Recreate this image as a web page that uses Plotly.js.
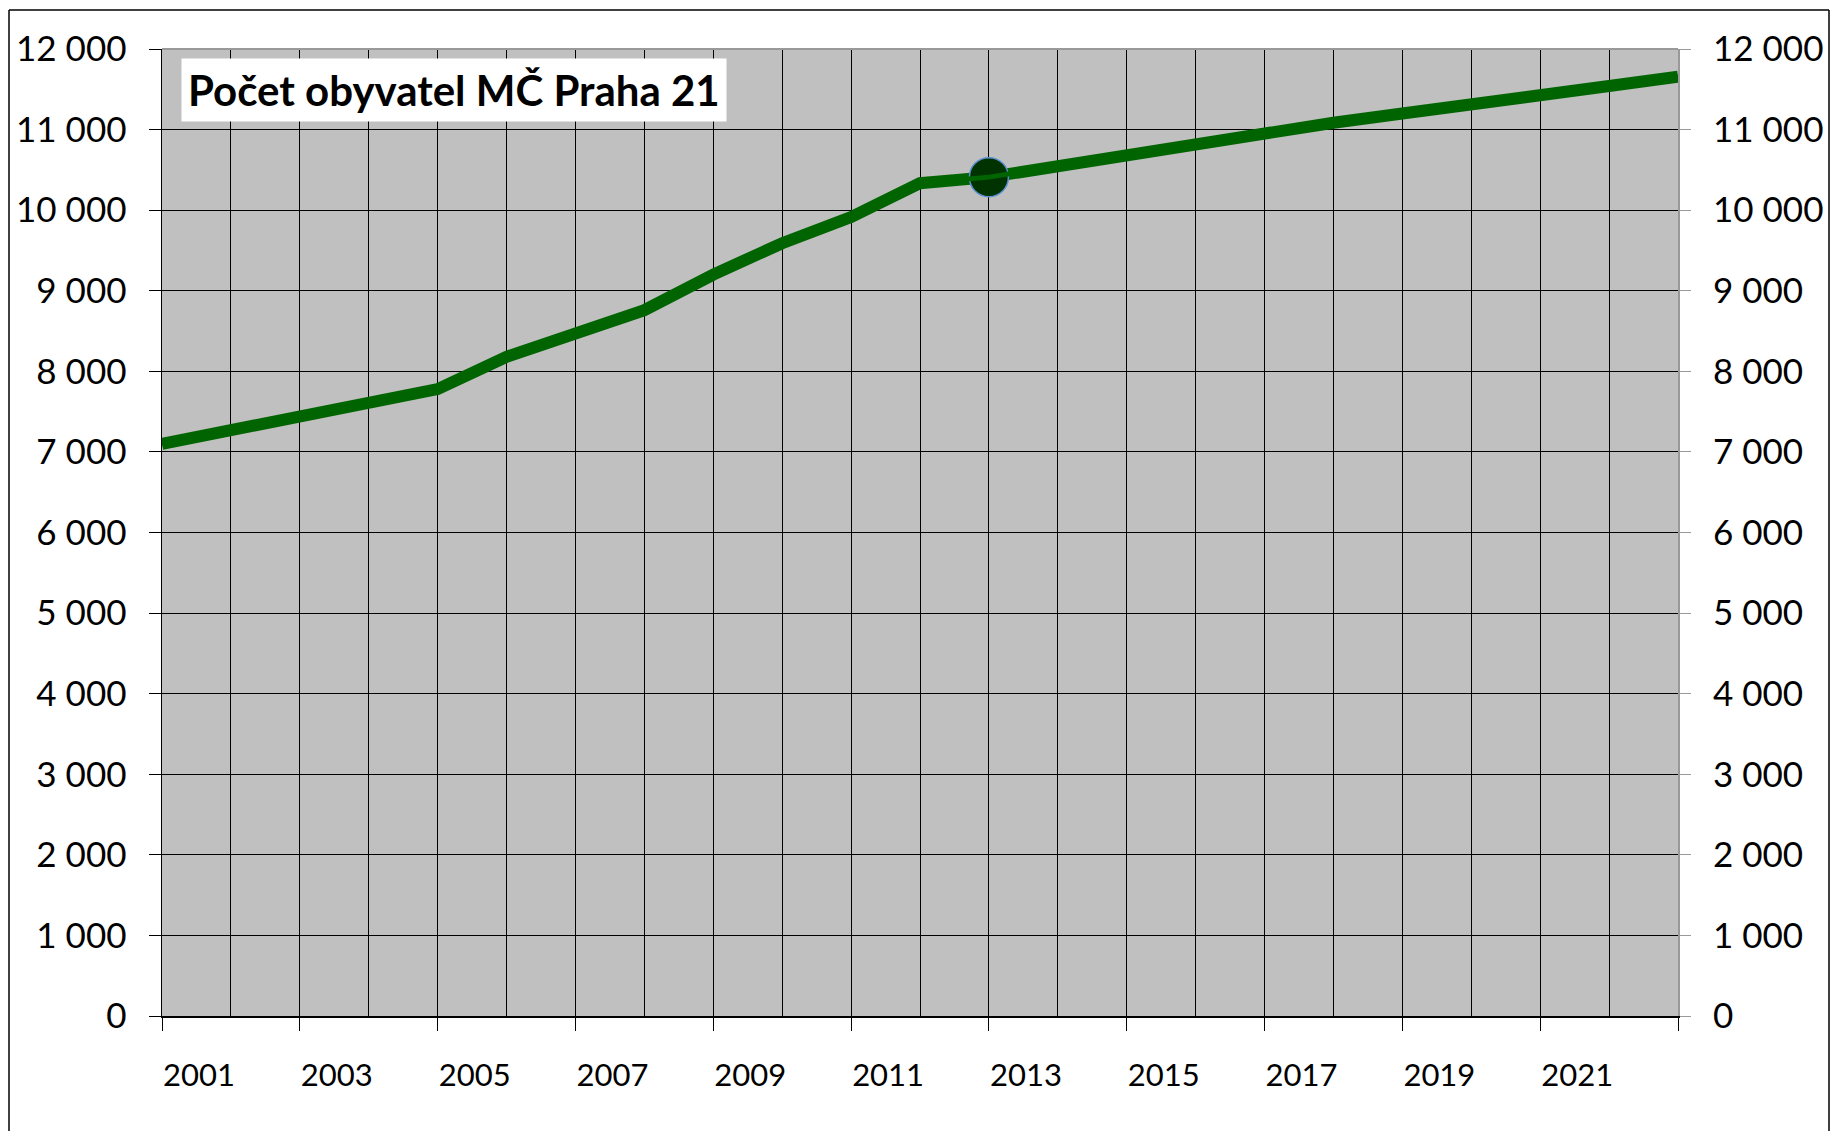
<!DOCTYPE html>
<html>
<head>
<meta charset="utf-8">
<script src="https://cdn.plot.ly/plotly-3.0.1.min.js"></script>
<style>
  html, body { margin: 0; padding: 0; background: #ffffff; }
  #chart { width: 1831px; height: 1131px; }
</style>
</head>
<body>
<div id="chart"></div>
<script>
// ---- data ----
const years = [2001, 2002, 2003, 2004, 2005, 2006, 2007, 2008, 2009, 2010, 2011, 2012,
               2013, 2014, 2015, 2016, 2017, 2018, 2019, 2020, 2021, 2022, 2023];
const population = [7100, 7270, 7455, 7610, 7780, 8180, 8475, 8760, 9200, 9590, 9915, 10335,
                    10410, 10550, 10685, 10820, 10950, 11085, 11200, 11325, 11437, 11540, 11656];
const highlightYear = [2013];
const highlightValue = [10410];
const xTickVals = [2001, 2003, 2005, 2007, 2009, 2011, 2013, 2015, 2017, 2019, 2021, 2023];
const xTickText = ['2001', '2003', '2005', '2007', '2009', '2011', '2013', '2015', '2017', '2019', '2021', ''];
const yTickVals = [0, 1000, 2000, 3000, 4000, 5000, 6000, 7000, 8000, 9000, 10000, 11000, 12000];
const chartTitle = 'Počet obyvatel MČ Praha 21';

// ---- layout geometry ----
const W = 1831, H = 1131;
const mL = 162, mR = 153, mT = 49, mB = 115;
const pw = W - mL - mR, ph = H - mT - mB;
const px = v => (v - mL) / pw;          // pixel -> paper x
const py = v => (H - mB - v) / ph;      // pixel -> paper y

const FONT = 'Lato, "Open Sans", "DejaVu Sans", sans-serif';

const traces = [
  {
    x: years, y: population, type: 'scatter', mode: 'lines',
    line: { color: '#006400', width: 12 },
    hoverinfo: 'skip', showlegend: false
  },
  {
    x: highlightYear, y: highlightValue, type: 'scatter', mode: 'markers',
    marker: { size: 39, color: '#003300', line: { color: '#5b8fd0', width: 1.5 } },
    hoverinfo: 'skip', showlegend: false
  },
  {
    x: years, y: population, type: 'scatter', mode: 'lines', yaxis: 'y2',
    line: { color: '#006400', width: 5 },
    hoverinfo: 'skip', showlegend: false
  }
];

const layout = {
  width: W, height: H,
  margin: { l: mL, r: mR, t: mT, b: mB, pad: 0 },
  paper_bgcolor: '#ffffff',
  plot_bgcolor: '#c0c0c0',
  separators: ', ',
  font: { family: FONT, color: '#000000' },
  showlegend: false,
  xaxis: {
    type: 'linear',
    range: [2001, 2023],
    tickmode: 'array',
    tickvals: xTickVals,
    ticktext: xTickText,
    ticks: 'outside', ticklen: 13, tickwidth: 1, tickcolor: '#000000',
    ticklabelshift: 37,
    ticklabelstandoff: 18,
    tickfont: { family: FONT, size: 31, color: '#000000' },
    showline: true, linecolor: '#000000', linewidth: 1.5,
    showgrid: true, gridcolor: '#000000', gridwidth: 1,
    minor: { dtick: 1, tick0: 2001, showgrid: true, gridcolor: '#000000', gridwidth: 1, ticks: '' },
    zeroline: false, fixedrange: true
  },
  yaxis: {
    range: [0, 12000],
    tickmode: 'array',
    tickvals: yTickVals,
    tickformat: ',d',
    ticks: 'outside', ticklen: 12, tickwidth: 1, tickcolor: '#000000',
    ticklabelstandoff: 15,
    tickfont: { family: FONT, size: 35, color: '#000000' },
    showline: true, linecolor: '#000000', linewidth: 1.5,
    showgrid: true, gridcolor: '#000000', gridwidth: 1,
    zeroline: false, fixedrange: true
  },
  yaxis2: {
    overlaying: 'y', side: 'right',
    range: [0, 12000],
    tickmode: 'array',
    tickvals: yTickVals,
    tickformat: ',d',
    ticks: 'outside', ticklen: 11, tickwidth: 1, tickcolor: '#999999',
    ticklabelstandoff: 15,
    tickfont: { family: FONT, size: 35, color: '#000000' },
    showline: true, linecolor: '#999999', linewidth: 2,
    showgrid: false, zeroline: false, fixedrange: true
  },
  shapes: [
    // plot area top edge (grey)
    { type: 'line', xref: 'paper', yref: 'paper', x0: 0, x1: 1, y0: 1, y1: 1,
      line: { color: '#999999', width: 2 }, layer: 'above' },
    // outer chart frame
    { type: 'line', xref: 'paper', yref: 'paper', x0: px(9), x1: px(1829), y0: py(10), y1: py(10),
      line: { color: '#000000', width: 1.5 } },
    { type: 'line', xref: 'paper', yref: 'paper', x0: px(9), x1: px(9), y0: py(10), y1: py(1135),
      line: { color: '#000000', width: 1.5 } },
    { type: 'line', xref: 'paper', yref: 'paper', x0: px(1829), x1: px(1829), y0: py(10), y1: py(1135),
      line: { color: '#000000', width: 1.5 } }
  ],
  annotations: [
    {
      text: '<b>' + chartTitle + '</b>',
      xref: 'paper', yref: 'paper',
      x: px(181), y: py(58), xanchor: 'left', yanchor: 'top',
      showarrow: false,
      bgcolor: '#ffffff',
      borderpad: 6,
      font: { family: FONT, size: 42, color: '#000000' }
    }
  ]
};

Plotly.newPlot('chart', traces, layout, { displayModeBar: false, staticPlot: true });
</script>
</body>
</html>
